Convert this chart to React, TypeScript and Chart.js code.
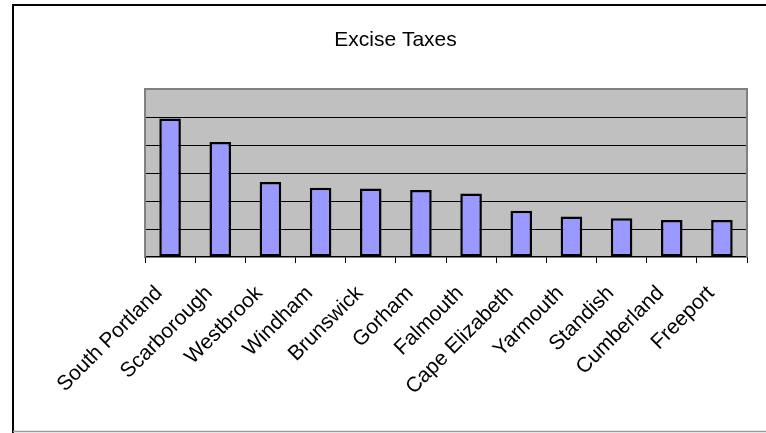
import React, { useEffect, useRef } from "react";
import { Chart, registerables } from "chart.js";

Chart.register(...registerables);

const categories = [
  "South Portland",
  "Scarborough",
  "Westbrook",
  "Windham",
  "Brunswick",
  "Gorham",
  "Falmouth",
  "Cape Elizabeth",
  "Yarmouth",
  "Standish",
  "Cumberland",
  "Freeport",
];

const exciseValues = [4.95, 4.11, 2.68, 2.47, 2.45, 2.39, 2.27, 1.65, 1.45, 1.38, 1.32, 1.32];

const titleText = "Excise Taxes";
const yMin = 0;
const yMax = 6;
const yStep = 1;

const framePlugin = {
  id: "framePlugin",
  beforeDraw(chart: any) {
    const { ctx, chartArea } = chart;
    ctx.save();
    ctx.fillStyle = "#ffffff";
    ctx.fillRect(0, 0, chart.width, chart.height);
    ctx.strokeStyle = "#000000";
    ctx.lineWidth = 2;
    ctx.beginPath();
    ctx.moveTo(13, chart.height);
    ctx.lineTo(13, 5);
    ctx.lineTo(chart.width + 5, 5);
    ctx.stroke();
    ctx.strokeStyle = "#9a9a9a";
    ctx.lineWidth = 1.5;
    ctx.beginPath();
    ctx.moveTo(13, 431.5);
    ctx.lineTo(chart.width, 431.5);
    ctx.stroke();
    ctx.fillStyle = "#c0c0c0";
    ctx.fillRect(chartArea.left, chartArea.top, chartArea.right - chartArea.left, chartArea.bottom - chartArea.top);
    ctx.restore();
  },
  beforeDatasetsDraw(chart: any) {
    const { ctx, chartArea } = chart;
    ctx.save();
    ctx.strokeStyle = "#808080";
    ctx.lineWidth = 2;
    ctx.beginPath();
    ctx.moveTo(chartArea.left, chartArea.bottom);
    ctx.lineTo(chartArea.left, chartArea.top);
    ctx.lineTo(chartArea.right, chartArea.top);
    ctx.lineTo(chartArea.right, chartArea.bottom);
    ctx.stroke();
    ctx.restore();
  },
};

export default function App() {
  const canvasRef = useRef<HTMLCanvasElement | null>(null);

  useEffect(() => {
    if (!canvasRef.current) return;
    const chart = new Chart(canvasRef.current, {
      type: "bar",
      data: {
        labels: categories,
        datasets: [
          {
            label: titleText,
            data: exciseValues,
            backgroundColor: "#9999ff",
            borderColor: "#000000",
            borderWidth: 2.5,
            borderSkipped: false,
            barPercentage: 0.43,
            categoryPercentage: 1,
          },
        ],
      },
      options: {
        responsive: false,
        animation: false,
        events: [],
        layout: { padding: { left: 44, right: 19, top: 0, bottom: 0 } },
        plugins: {
          legend: { display: false },
          tooltip: { enabled: false },
          title: {
            display: true,
            text: titleText,
            color: "#000000",
            font: { family: "'Liberation Sans', Arial, sans-serif", size: 21, weight: "normal", lineHeight: 1.2 },
            padding: { top: 27.4, bottom: 36.4 },
          },
        },
        scales: {
          x: {
            offset: true,
            grid: {
              display: true,
              drawOnChartArea: false,
              drawTicks: true,
              tickLength: 6,
              color: "#000000",
              offset: true,
            },
            border: { display: true, color: "#000000", width: 1.5 },
            ticks: {
              minRotation: 45,
              maxRotation: 45,
              autoSkip: false,
              padding: 18,
              labelOffset: -11,
              color: "#000000",
              font: { family: "'Liberation Sans', Arial, sans-serif", size: 21 },
            },
            afterFit(scale: any) {
              scale.height = 433 - 257;
            },
          },
          y: {
            min: yMin,
            max: yMax,
            ticks: { display: false, stepSize: yStep },
            grid: {
              drawTicks: false,
              color: (ctx: any) =>
                ctx.tick && (ctx.tick.value === yMin || ctx.tick.value === yMax) ? "rgba(0,0,0,0)" : "#000000",
              lineWidth: 1,
            },
            border: { display: false },
            afterFit(scale: any) {
              scale.width = 145 - 44;
            },
          },
        },
      },
      plugins: [framePlugin],
    });
    return () => chart.destroy();
  }, []);

  return (
    <div style={{ position: "fixed", left: 0, top: 0, width: 766, height: 433, background: "#fff" }}>
      <canvas ref={canvasRef} width={766} height={433} style={{ display: "block" }} />
    </div>
  );
}
